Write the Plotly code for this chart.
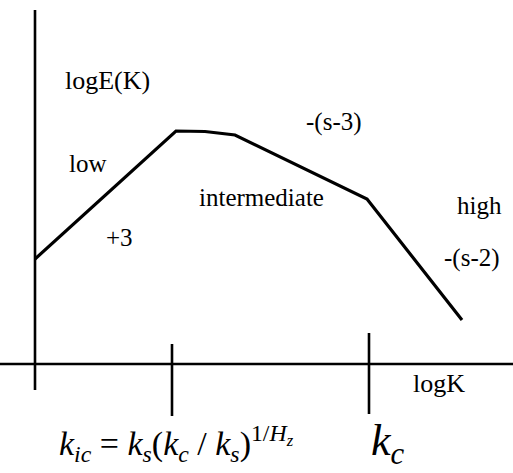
import plotly.graph_objects as go

# schematic energy spectrum, diagram units (logK across, logE up)
log_k = [0.0, 14.1, 17.0, 20.0, 33.2, 42.7]
log_e = [10.5, 23.3, 23.25, 22.9, 16.5, 4.4]

# break points marked on the logK axis
tick_k = [13.7, 33.4]

FONT = "Liberation Serif"

fig = go.Figure()

fig.add_trace(go.Scatter(x=log_k, y=log_e, mode="lines",
                         line=dict(color="black", width=3.2),
                         hoverinfo="skip", showlegend=False))

# axes drawn by hand, like the sketch
fig.add_shape(type="line", x0=0, x1=0, y0=-2.6, y1=35.4,
              line=dict(color="black", width=2.6))
fig.add_shape(type="line", x0=-3.5, x1=47.8, y0=0, y1=0,
              line=dict(color="black", width=2.6))
fig.add_shape(type="line", x0=tick_k[0], x1=tick_k[0], y0=2.0, y1=-5.2,
              line=dict(color="black", width=2.6))
fig.add_shape(type="line", x0=tick_k[1], x1=tick_k[1], y0=3.1, y1=-5.0,
              line=dict(color="black", width=2.6))

def label(x, y, text, size=25):
    fig.add_annotation(x=x, y=y, text=text, showarrow=False,
                       font=dict(family=FONT, size=size, color="black"))

label(7.2, 28.4, "logE(K)", size=26)
label(5.3, 20.1, "low")
label(8.4, 12.7, "+3")
label(22.6, 16.7, "intermediate")
label(29.9, 24.2, "-(s-3)")
label(44.4, 15.9, "high")
label(43.7, 10.6, "-(s-2)")
label(40.4, -1.9, "logK", size=26)
label(14.1, -7.9,
      "<i>k</i><sub><i>ic</i></sub> = <i>k</i><sub><i>s</i></sub>"
      "(<i>k</i><sub><i>c</i></sub> / <i>k</i><sub><i>s</i></sub>)"
      "<sup>1/<i>H<sub>z</sub></i></sup>", size=34)
label(35.3, -7.9, "<i>k</i><sub><i>c</i></sub>", size=44)

fig.update_xaxes(range=[-3.5, 47.8], visible=False)
fig.update_yaxes(range=[-10.9, 36.4], visible=False)
fig.update_layout(width=513, height=473, margin=dict(l=0, r=0, t=0, b=0),
                  plot_bgcolor="white", paper_bgcolor="white")

# page body has a default 8px margin, drop it so the figure sits at 0,0
fig.write_html("out.html", config={"displayModeBar": False},
               post_script="document.body.style.margin='0';")
